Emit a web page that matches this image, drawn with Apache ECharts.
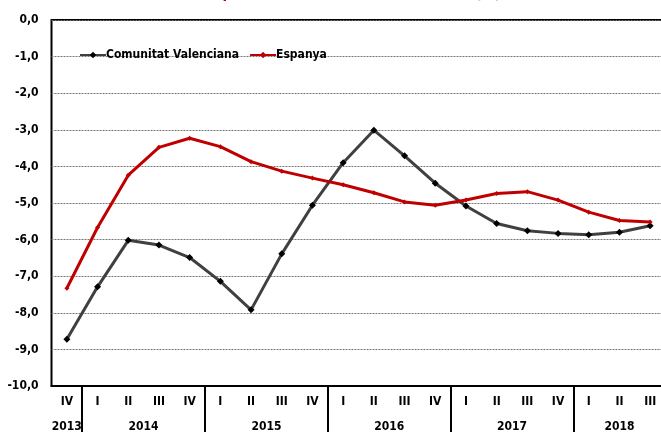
<!DOCTYPE html>
<html>
<head>
<meta charset="utf-8">
<script src="https://cdn.jsdelivr.net/npm/echarts@6/dist/echarts.min.js"></script>
<style>
  html, body { margin: 0; padding: 0; background: #fff; }
  #chart { width: 661px; height: 432px; }
</style>
</head>
<body>
<div id="chart"></div>
<script>
// trimestres i anys
var quarters = ['IV', 'I', 'II', 'III', 'IV', 'I', 'II', 'III', 'IV', 'I', 'II', 'III', 'IV', 'I', 'II', 'III', 'IV', 'I', 'II', 'III'];
var years = ['2013', '2014', '2015', '2016', '2017', '2018'];
var yearCounts = [1, 4, 4, 4, 4, 3];

// taxa de variació (%)
var cvalenciana = [-8.72, -7.29, -6.02, -6.15, -6.49, -7.14, -7.92, -6.39, -5.06, -3.90, -3.01, -3.71, -4.46, -5.08, -5.56, -5.76, -5.83, -5.87, -5.80, -5.62];
var espanya = [-7.33, -5.67, -4.24, -3.48, -3.23, -3.46, -3.87, -4.13, -4.32, -4.50, -4.72, -4.97, -5.06, -4.92, -4.74, -4.69, -4.92, -5.25, -5.48, -5.52];

var yTicks = [0, -1, -2, -3, -4, -5, -6, -7, -8, -9, -10];

var font = "'Liberation Sans Narrow', 'DejaVu Sans Condensed', sans-serif";

// inici de cada any (índex de trimestre) i centre de l'etiqueta
var yearStarts = [];
var yearCenters = [];
var acc = 0;
for (var i = 0; i < yearCounts.length; i++) {
    yearStarts.push(acc);
    yearCenters.push(acc + yearCounts[i] / 2);
    acc += yearCounts[i];
}

var chart = echarts.init(document.getElementById('chart'));
var option = {
    animation: false,
    textStyle: { fontFamily: font },
    graphic: [{
        type: 'text',
        style: {
            text: 'Ocupats, taxa de variació interanual (%)',
            x: 501, y: 2,
            align: 'right', verticalAlign: 'bottom',
            fill: '#c00000',
            font: 'bold 15px ' + font
        }
    }],
    legend: {
        left: 79,
        top: 49,
        padding: 0,
        itemWidth: 26,
        itemHeight: 8,
        itemGap: 10,
        textStyle: { color: '#000', fontWeight: 'bold', fontSize: 12, fontFamily: font, padding: [0, 0, 0, -5] },
        data: ['Comunitat Valenciana', 'Espanya']
    },
    grid: {
        left: 51.5, right: -4.5, top: 20, bottom: 46,
        outerBoundsMode: 'none',
        show: true, borderColor: '#000', borderWidth: 2
    },
    xAxis: [{
        type: 'category',
        position: 'bottom',
        data: quarters,
        boundaryGap: true,
        axisLine: { onZero: false, lineStyle: { color: '#000', width: 2 } },
        axisTick: {
            show: true,
            inside: false,
            length: 50,
            interval: function (index) { return yearStarts.indexOf(index) > 0; },
            lineStyle: { color: '#000', width: 2 }
        },
        axisLabel: { color: '#000', fontWeight: 'bold', fontSize: 12, margin: 10, interval: 0 }
    }, {
        type: 'value',
        position: 'bottom',
        offset: 0,
        min: 0,
        max: quarters.length,
        interval: 0.5,
        axisLine: { show: false, onZero: false },
        axisTick: { show: false },
        splitLine: { show: false },
        axisLabel: {
            color: '#000', fontWeight: 'bold', fontSize: 12, margin: 35,
            showMinLabel: true, showMaxLabel: true,
            formatter: function (v) {
                var k = yearCenters.indexOf(v);
                return k >= 0 ? years[k] : '';
            }
        }
    }],
    yAxis: {
        type: 'value',
        min: yTicks[yTicks.length - 1],
        max: yTicks[0],
        interval: 1,
        axisLine: { show: false },
        axisTick: { show: false },
        axisLabel: {
            color: '#000', fontWeight: 'bold', fontSize: 12, margin: 13,
            formatter: function (v) { return v.toFixed(1).replace('.', ','); }
        },
        splitLine: { lineStyle: { color: '#777', width: 1, type: [2, 1] } }
    },
    series: [
        {
            name: 'Comunitat Valenciana',
            type: 'line',
            data: cvalenciana,
            symbol: 'diamond',
            symbolSize: 7,
            itemStyle: { color: '#000' },
            lineStyle: { color: '#404040', width: 3 }
        },
        {
            name: 'Espanya',
            type: 'line',
            data: espanya,
            symbol: 'diamond',
            symbolSize: 5,
            itemStyle: { color: '#c00000' },
            lineStyle: { color: '#c00000', width: 3 }
        }
    ]
};
chart.setOption(option);

window.addEventListener('resize', function () {
    chart.resize();
});
</script>
</body>
</html>
